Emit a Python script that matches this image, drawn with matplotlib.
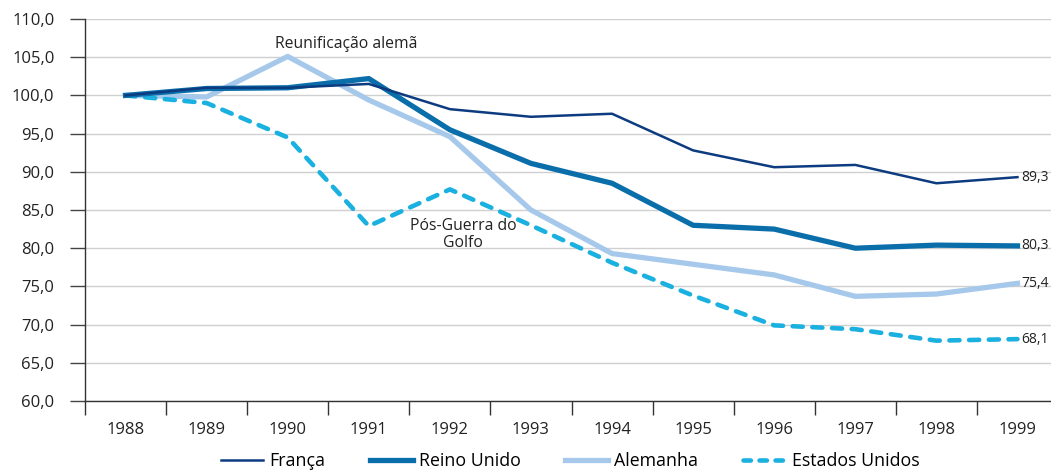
import matplotlib
matplotlib.use("Agg")
import matplotlib.pyplot as plt
from matplotlib.lines import Line2D

years = ["1988", "1989", "1990", "1991", "1992", "1993", "1994", "1995", "1996", "1997", "1998", "1999"]
franca = [100.0, 101.0, 101.0, 101.5, 98.2, 97.2, 97.6, 92.8, 90.6, 90.9, 88.5, 89.3]
reino_unido = [100.0, 100.9, 101.0, 102.2, 95.5, 91.1, 88.5, 83.0, 82.5, 80.0, 80.4, 80.3]
alemanha = [100.0, 99.8, 105.1, 99.4, 94.6, 85.0, 79.3, 77.9, 76.5, 73.7, 74.0, 75.4]
estados_unidos = [100.0, 99.0, 94.5, 82.9, 87.7, 83.0, 78.1, 73.8, 69.9, 69.4, 67.9, 68.1]
end_labels = ["89,3", "80,3", "75,4", "68,1"]

plt.rcParams['font.family'] = ['Open Sans', 'DejaVu Sans']

fig = plt.figure(figsize=(10.51, 4.73), dpi=100)
ax = fig.add_axes([85/1051, 1-401/473, 973/1051, (401-19)/473])

x = list(range(len(years)))
c_fr, c_uk, c_de, c_us = "#0d3b80", "#0a6eaa", "#a6c9eb", "#1ab0e0"
ax.plot(x, alemanha, color=c_de, lw=3.8, solid_joinstyle='round', zorder=3)
ax.plot(x, franca, color=c_fr, lw=1.8, zorder=4)
ax.plot(x, reino_unido, color=c_uk, lw=3.8, zorder=3.5)
ax.plot(x, estados_unidos, color=c_us, lw=3.3, dashes=(2.2, 2.1), dash_capstyle='round', zorder=3)

ax.set_xlim(-0.5, 11.5)
ax.set_ylim(60, 110)
ax.set_yticks([60 + 5*i for i in range(11)])
ax.set_yticklabels([f"{60 + 5*i},0" for i in range(11)], fontsize=12, color="#222222")
ax.set_xticks(x)
ax.set_xticklabels(years, fontsize=12, color="#222222")
ax.set_xticks([i - 0.5 for i in range(13)], minor=True)
ax.tick_params(axis='x', which='major', length=0, pad=15)
ax.tick_params(axis='x', which='minor', length=10, width=1, color="#333333")
ax.tick_params(axis='y', length=11, width=1, color="#444444", pad=11)
ax.grid(axis='y', color="#d0d0d0", lw=1, zorder=0)
ax.set_axisbelow(True)
for s in ['top', 'right']:
    ax.spines[s].set_visible(False)
for s in ['left', 'bottom']:
    ax.spines[s].set_color("#333333")
    ax.spines[s].set_linewidth(1)

series = [franca, reino_unido, alemanha, estados_unidos]
for vals, lab in zip(series, end_labels):
    ax.annotate(lab, (11, vals[-1]), xytext=(3, 0), textcoords='offset points',
                va='center', ha='left', fontsize=10, color="#222222", annotation_clip=False)

ax.text(2.72, 106.7, "Reunificação alemã", ha='center', va='center', fontsize=11.3, color="#222222")
ax.text(4.16, 81.8, "Pós-Guerra do\nGolfo", ha='center', va='center', fontsize=11.3, color="#222222", linespacing=1.15)

handles = [Line2D([], [], color=c_fr, lw=1.8),
           Line2D([], [], color=c_uk, lw=3.8),
           Line2D([], [], color=c_de, lw=3.8),
           Line2D([], [], color=c_us, lw=3.3, dashes=(1.6, 1.9), dash_capstyle='round')]
fig.legend(handles, ["França", "Reino Unido", "Alemanha", "Estados Unidos"],
           loc='center', bbox_to_anchor=(570/1051, 1-461/473), ncol=4, frameon=False,
           fontsize=12.8, handlelength=2.4, columnspacing=2.5, handletextpad=0.35,
           borderpad=0.1)

fig.savefig("out.png", dpi=100)
